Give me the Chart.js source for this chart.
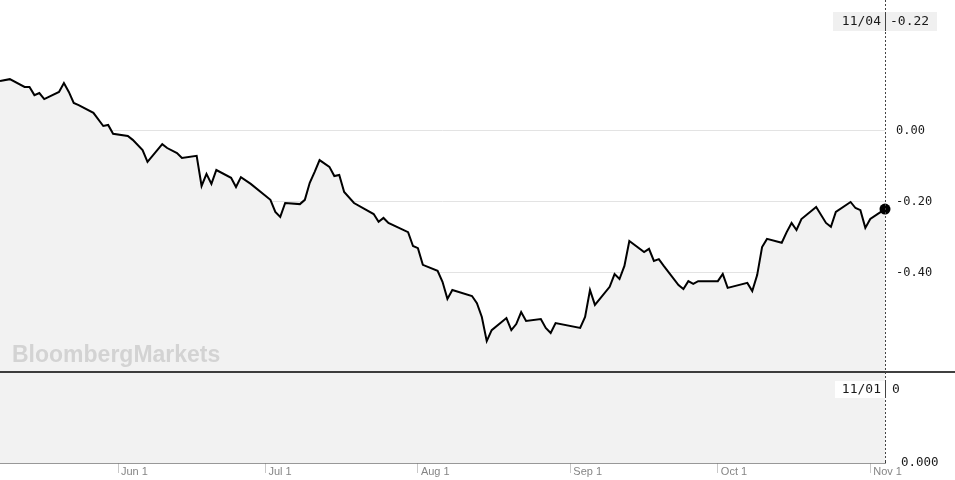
<!DOCTYPE html>
<html>
<head>
<meta charset="utf-8">
<script src="https://cdn.jsdelivr.net/npm/chart.js@4.4.0/dist/chart.umd.min.js"></script>
<style>
html, body { margin: 0; padding: 0; background: #fff; }
</style>
</head>
<body>
<canvas id="grafico" width="955" height="480"></canvas>
<script>
// Datos (fecha MM-DD, valor)
const fechas = [
    '05-08','05-10','05-13','05-14','05-15','05-16','05-17','05-20','05-21','05-22',
    '05-23','05-24','05-27','05-29','05-30','05-31','06-03','06-04','06-06','06-07',
    '06-10','06-11','06-13','06-14','06-17','06-18','06-19','06-20','06-21','06-24',
    '06-25','06-26','06-28','07-02','07-03','07-04','07-05','07-08','07-09','07-10',
    '07-11','07-12','07-14','07-15','07-16','07-17','07-19','07-23','07-24','07-25',
    '07-26','07-30','07-31','08-01','08-02','08-05','08-06','08-07','08-08','08-12',
    '08-13','08-14','08-15','08-16','08-19','08-20','08-21','08-22','08-23','08-26',
    '08-27','08-28','08-29','09-03','09-04','09-05','09-06','09-09','09-10','09-11',
    '09-12','09-13','09-16','09-17','09-18','09-19','09-20','09-23','09-24','09-25',
    '09-26','09-27','10-01','10-02','10-03','10-07','10-08','10-09','10-10','10-11',
    '10-14','10-15','10-16','10-17','10-18','10-21','10-23','10-24','10-25','10-28',
    '10-29','10-30','10-31','11-01','11-04'
];
const valores = [
    0.141, 0.146, 0.124, 0.124, 0.101, 0.107, 0.090, 0.110, 0.135, 0.110,
    0.079, 0.073, 0.051, 0.014, 0.017, -0.008, -0.014, -0.025, -0.054, -0.087,
    -0.037, -0.048, -0.062, -0.076, -0.070, -0.155, -0.121, -0.149, -0.110, -0.132,
    -0.158, -0.130, -0.149, -0.194, -0.228, -0.242, -0.203, -0.206, -0.194, -0.146,
    -0.115, -0.082, -0.101, -0.127, -0.124, -0.172, -0.203, -0.234, -0.256, -0.245,
    -0.259, -0.285, -0.324, -0.330, -0.377, -0.394, -0.425, -0.473, -0.448, -0.465,
    -0.485, -0.524, -0.592, -0.561, -0.527, -0.561, -0.544, -0.510, -0.535, -0.530,
    -0.555, -0.569, -0.541, -0.555, -0.524, -0.448, -0.490, -0.439, -0.403, -0.417,
    -0.380, -0.310, -0.341, -0.332, -0.366, -0.361, -0.380, -0.434, -0.445, -0.423,
    -0.431, -0.423, -0.423, -0.403, -0.442, -0.428, -0.451, -0.406, -0.327, -0.304,
    -0.315, -0.285, -0.259, -0.279, -0.248, -0.214, -0.259, -0.270, -0.228, -0.200,
    -0.217, -0.223, -0.273, -0.248, -0.220
];

// Marcas del eje X y del eje Y
const fechasMeses = ['06-01', '07-01', '08-01', '09-01', '10-01', '11-01'];
const etiquetasMeses = ['Jun 1', 'Jul 1', 'Aug 1', 'Sep 1', 'Oct 1', 'Nov 1'];
const ticksY = [0, -0.2, -0.4];

// Lectura del panel inferior (volumen)
const fechaVolumen = '11/01';
const valorVolumen = 0;

// Convierte MM-DD a numero de dia
function dia(f) {
    return Date.UTC(2019, parseInt(f.slice(0, 2)) - 1, parseInt(f.slice(3))) / 86400000;
}

let puntos = fechas.map((f, i) => ({ x: dia(f), y: valores[i] }));
let ultimo = puntos.length - 1;

const mono = 'DejaVu Sans Mono';

// Quita el relleno automatico de las escalas
function sinRelleno(s) {
    s.paddingTop = 0;
    s.paddingBottom = 0;
    s.paddingLeft = 0;
    s.paddingRight = 0;
}

// Fondo del panel inferior, separadores, marca de agua y lecturas
const decoracion = {
    id: 'decoracion',
    beforeDatasetsDraw(chart) {
        const { ctx, chartArea: a, scales } = chart;
        const y2 = scales.y2;
        ctx.save();
        ctx.fillStyle = '#f2f2f2';
        ctx.fillRect(a.left, y2.top, a.right - a.left, y2.bottom - y2.top);
        ctx.restore();
    },
    afterDraw(chart) {
        const { ctx, chartArea: a, scales } = chart;
        const y2 = scales.y2;
        const xUlt = scales.x.getPixelForValue(puntos[ultimo].x);
        ctx.save();

        // marca de agua
        ctx.fillStyle = '#d3d3d3';
        ctx.font = 'bold 23px "Liberation Sans"';
        ctx.textBaseline = 'alphabetic';
        ctx.fillText('BloombergMarkets', 12, 362);

        // linea negra entre paneles
        ctx.strokeStyle = '#000';
        ctx.lineWidth = 1.5;
        ctx.beginPath();
        ctx.moveTo(0, y2.top);
        ctx.lineTo(chart.width, y2.top);
        ctx.stroke();

        // lectura superior
        ctx.fillStyle = '#f0f0f0';
        ctx.fillRect(833, 12, 104, 19);
        // lectura inferior
        ctx.fillStyle = '#fff';
        ctx.fillRect(835, y2.top + 9, 68, 17);

        // linea punteada vertical
        ctx.strokeStyle = '#444';
        ctx.lineWidth = 1;
        ctx.setLineDash([2, 2]);
        ctx.beginPath();
        ctx.moveTo(xUlt + 0.5, 0);
        ctx.lineTo(xUlt + 0.5, a.bottom);
        ctx.stroke();
        ctx.setLineDash([]);
        ctx.beginPath();
        ctx.moveTo(xUlt + 0.5, 12);
        ctx.lineTo(xUlt + 0.5, 31);
        ctx.moveTo(xUlt + 0.5, y2.top + 9);
        ctx.lineTo(xUlt + 0.5, y2.top + 26);
        ctx.stroke();

        ctx.fillStyle = '#1a1a1a';
        ctx.font = '13px "' + mono + '"';
        ctx.textBaseline = 'middle';
        ctx.textAlign = 'right';
        let f = fechas[ultimo];
        ctx.fillText(f.slice(0, 2) + '/' + f.slice(3), xUlt - 4, 22);
        ctx.fillText(fechaVolumen, xUlt - 4, y2.top + 18);
        ctx.textAlign = 'left';
        ctx.fillText(valores[ultimo].toFixed(2), xUlt + 5, 22);
        ctx.fillText(String(valorVolumen), xUlt + 7, y2.top + 18);
        ctx.restore();
    }
};

let canvas = document.getElementById('grafico');

let grafico = new Chart(canvas, {
    type: 'line',
    data: {
        datasets: [{
            data: puntos,
            borderColor: '#000',
            borderWidth: 2,
            backgroundColor: '#f2f2f2',
            fill: 'start',
            tension: 0,
            pointRadius: (c) => c.dataIndex === ultimo ? 5.5 : 0,
            pointBackgroundColor: '#000',
            pointBorderWidth: 0,
            clip: false,
            yAxisID: 'y',
        }],
    },
    options: {
        responsive: false,
        animation: false,
        layout: { padding: 0, autoPadding: false },
        plugins: {
            legend: { display: false },
            tooltip: { enabled: false },
        },
        scales: {
            x: {
                type: 'linear',
                min: dia('05-08'),
                max: dia('11-04'),
                afterBuildTicks: (s) => { s.ticks = fechasMeses.map((f) => ({ value: dia(f) })); },
                afterFit: (s) => { s.height = 17; sinRelleno(s); },
                ticks: {
                    callback: (v, i) => etiquetasMeses[i],
                    align: 'start',
                    labelOffset: 3,
                    padding: -8,
                    maxRotation: 0,
                    autoSkip: false,
                    color: '#858585',
                    font: { family: 'Liberation Sans', size: 11 },
                },
                grid: { drawOnChartArea: false, tickLength: 10, color: '#c8c8c8' },
                border: { color: '#333', width: 1.5 },
            },
            y: {
                position: 'right',
                stack: 'panel',
                stackWeight: 372,
                min: -0.679,
                max: 0.369,
                afterBuildTicks: (s) => { s.ticks = ticksY.map((v) => ({ value: v })); },
                afterFit: (s) => { s.width = 70; sinRelleno(s); },
                ticks: {
                    callback: (v) => v.toFixed(2),
                    padding: 11,
                    color: '#1a1a1a',
                    font: { family: mono, size: 12 },
                },
                grid: { color: '#e3e3e3', drawTicks: false },
                border: { display: false },
            },
            y2: {
                position: 'right',
                stack: 'panel',
                stackWeight: 91,
                min: 0,
                max: 1,
                afterBuildTicks: (s) => { s.ticks = [{ value: 0 }]; },
                afterFit: (s) => { s.width = 70; sinRelleno(s); },
                ticks: {
                    callback: () => '0.000',
                    padding: 8,
                    color: '#1a1a1a',
                    font: { family: mono, size: 12.5 },
                },
                grid: { display: false },
                border: { display: false },
            },
        },
    },
    plugins: [decoracion],
});
</script>
</body>
</html>
